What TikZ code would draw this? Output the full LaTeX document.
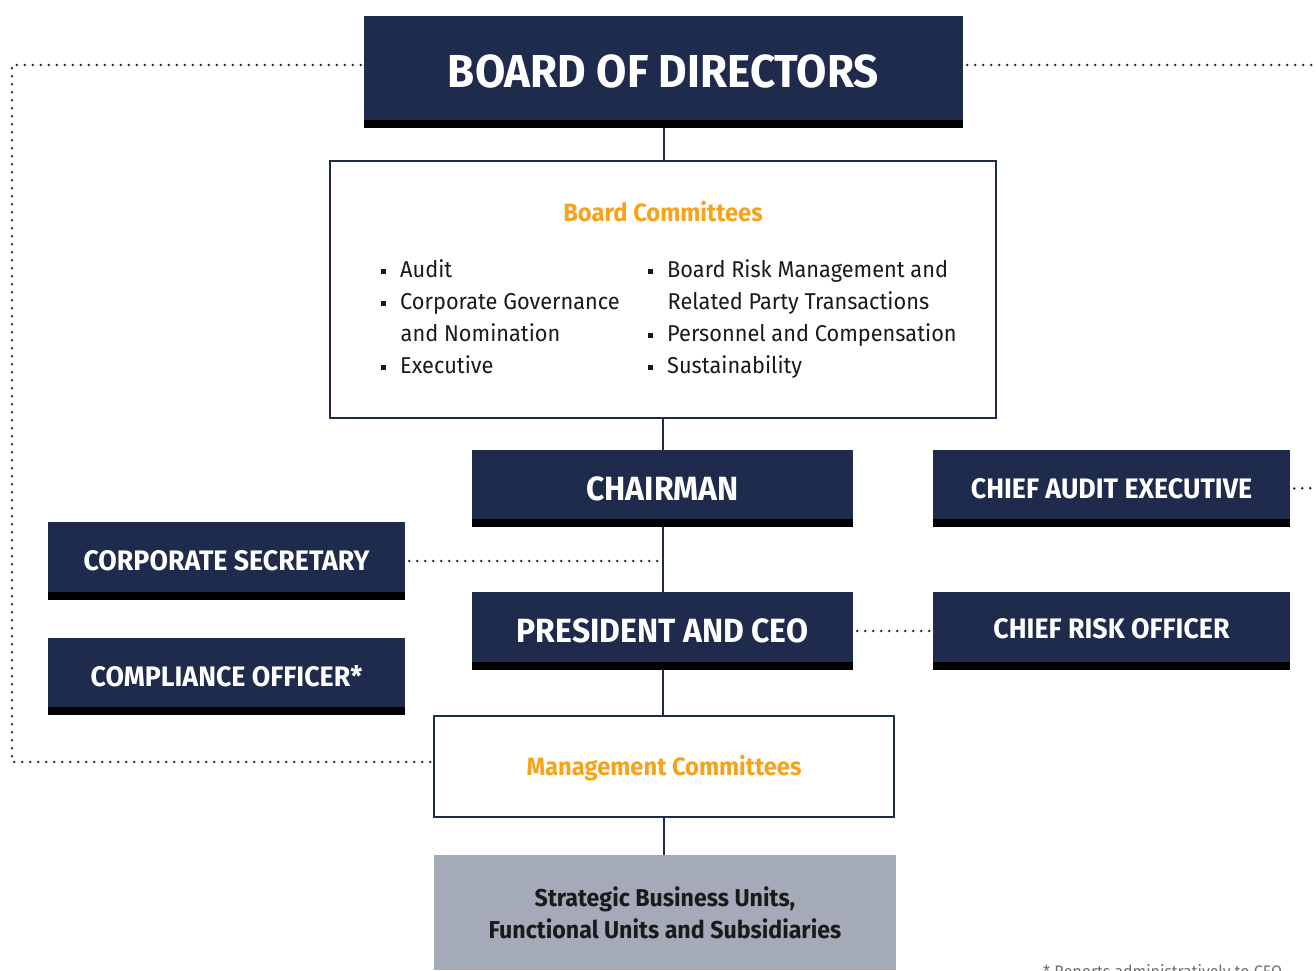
\documentclass[tikz,border=0pt]{standalone}
\usepackage{fontspec}
\setmainfont{Fira Sans}[FakeStretch=0.95]
\definecolor{navy}{HTML}{1F2B4C}
\definecolor{orng}{HTML}{F7A21B}
\definecolor{sbugray}{HTML}{A4AAB8}
\definecolor{txtdark}{HTML}{1A1A1A}
\definecolor{notegray}{HTML}{707070}
\newcommand{\sqbul}{\raisebox{3.4pt}{\rule{5pt}{5pt}}}
\newcommand{\fs}[1]{\fontsize{#1}{#1}\selectfont}
\begin{document}
\begin{tikzpicture}[x=1pt,y=-1pt,
  dbox/.style={fill=navy, text=white, inner sep=0pt, text depth=0pt,
    path picture={\fill[black] ([yshift=8pt]path picture bounding box.south west) rectangle (path picture bounding box.south east);}},
  bigtxt/.style={font=\bfseries\fs{33.6}, text height=23.1pt},
  smalltxt/.style={font=\bfseries\fs{28.2}, text height=19.4pt},
  wbox/.style={draw=navy, line width=2pt, fill=white, inner sep=0pt},
  conn/.style={draw=navy, line width=2pt},
  dotline/.style={draw=navy, line width=2.8pt, line cap=round, dash pattern=on 0pt off 8pt},
  item/.style={anchor=base west, inner sep=0pt, text=txtdark, font=\fs{22.9}},
  ttl/.style={text=orng, font=\bfseries\fs{25}, inner sep=0pt}
]
\useasboundingbox (0,0) rectangle (1316,970);

% coordinates for dotted frame
\coordinate (tl) at (12,65);
\coordinate (tr) at (1316,65);
\coordinate (bl) at (12,762);
\coordinate (caeR) at (1316,488);

% main boxes
\node[dbox, minimum width=599pt, minimum height=112pt, font=\bfseries\fs{46.2}, text height=31.8pt] (board) at (663.5,72) {BOARD OF DIRECTORS};
\node[wbox, minimum width=666pt, minimum height=257pt] (bc) at (663,289.5) {};
\node[dbox, bigtxt, minimum width=381pt, minimum height=77pt] (chair) at (662.5,488.5) {CHAIRMAN};
\node[dbox, smalltxt, minimum width=357pt, minimum height=77pt] (cae) at (1111.5,488.5) {CHIEF AUDIT EXECUTIVE};
\node[dbox, smalltxt, minimum width=357pt, minimum height=78pt] (cs) at (226.5,561) {CORPORATE SECRETARY};
\node[dbox, bigtxt, minimum width=381pt, minimum height=78pt] (pres) at (662.5,631) {PRESIDENT AND CEO};
\node[dbox, smalltxt, minimum width=357pt, minimum height=78pt] (cro) at (1111.5,631) {\raisebox{2pt}{CHIEF RISK OFFICER}};
\node[dbox, smalltxt, minimum width=357pt, minimum height=77pt] (co) at (226.5,676.5) {COMPLIANCE OFFICER*};
\node[wbox, minimum width=460pt, minimum height=101pt, text=orng, font=\bfseries\fs{25}, text height=17.2pt, text depth=0pt] (mc) at (664,766.5) {Management Committees};
\node[fill=sbugray, minimum width=462pt, minimum height=115pt, inner sep=0pt, text=txtdark, font=\bfseries\fontsize{24.4}{32}\selectfont, align=center] (sbu) at (665,912.5) {Strategic Business Units,\\Functional Units and Subsidiaries};

% board committees content
\node[ttl, anchor=base] (bctitle) at (663,221) {Board Committees};
\node[item] (i1) at (381,277) {\sqbul\hspace{14pt}Audit};
\node[item] (i2) at (381,309) {\sqbul\hspace{14pt}Corporate Governance};
\node[item] (i3) at (400.5,341) {and Nomination};
\node[item] (i4) at (381,373) {\sqbul\hspace{14pt}Executive};
\node[item] (j1) at (648,277) {\sqbul\hspace{14pt}Board Risk Management and};
\node[item] (j2) at (667.5,309) {Related Party Transactions};
\node[item] (j3) at (648,341) {\sqbul\hspace{14pt}Personnel and Compensation};
\node[item] (j4) at (648,373) {\sqbul\hspace{14pt}Sustainability};

% footnote (cut off by page edge, as in the original)
\node[anchor=base west, inner sep=0pt, text=notegray, font=\fs{16.7}] (note) at (1043,977) {* Reports administratively to CEO};

% solid connectors
\draw[conn] (board.south) -- (board.south |- bc.north);
\draw[conn] (bc.south) -- (bc.south |- chair.north);
\draw[conn] (chair.south) -- (chair.south |- pres.north);
\draw[conn] (pres.south) -- (pres.south |- mc.north);
\draw[conn] (mc.south) -- (mc.south |- sbu.north);

% dotted connectors
\draw[dotline] ([xshift=-3pt]board.west |- tl) -- (tl) -- (bl) -- (mc.west |- bl);
\draw[dotline] ([xshift=4pt]board.east |- tr) -- (tr);
\draw[dotline] ([xshift=4pt]cs.east) -- (cs.east -| chair.south);
\draw[dotline] ([xshift=4pt]pres.east) -- (cro.west);
\draw[dotline] ([xshift=4pt]cae.east) -- (caeR);
\end{tikzpicture}
\end{document}
